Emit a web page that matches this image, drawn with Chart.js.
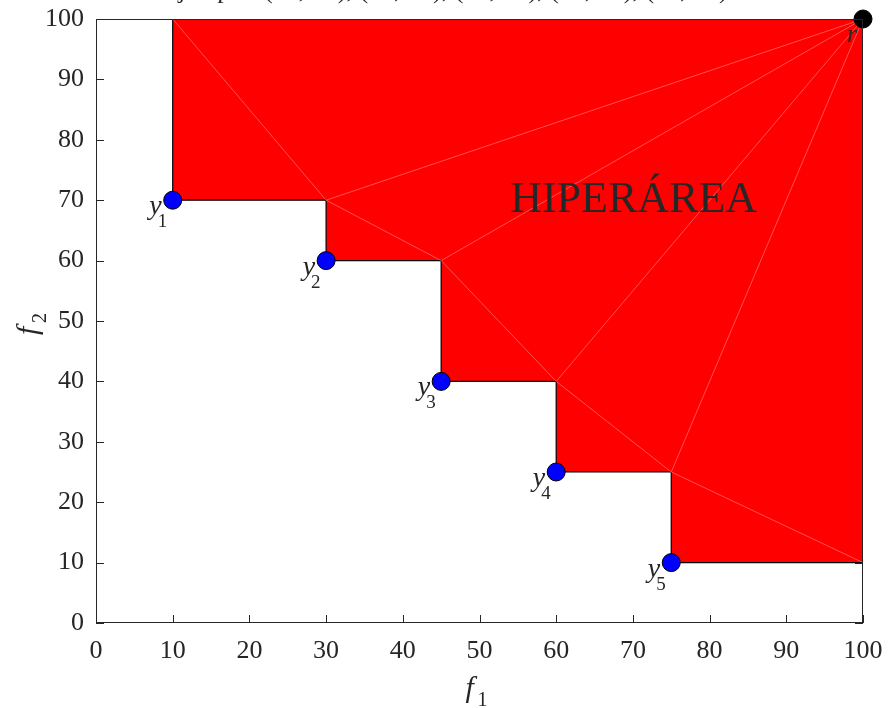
<!DOCTYPE html>
<html lang="es">
<head>
<meta charset="utf-8">
<title>Hiperárea</title>
<script src="https://cdn.jsdelivr.net/npm/chart.js@4.4.1/dist/chart.umd.min.js"></script>
<style>
  html, body { margin: 0; padding: 0; background: #fff; }
  #contenedor { width: 888px; height: 708px; }
</style>
</head>
<body>
<div id="contenedor"><canvas id="grafica" width="888" height="708"></canvas></div>
<script>
// Frente de Pareto (minimizacion de f1 y f2) y punto de referencia r
const f1Frente = [10, 30, 45, 60, 75];
const f2Frente = [70, 60, 40, 25, 10];
const subFrente = ['1', '2', '3', '4', '5'];
const refF1 = 100;
const refF2 = 100;

const ticksF1 = [0, 10, 20, 30, 40, 50, 60, 70, 80, 90, 100];
const ticksF2 = [0, 10, 20, 30, 40, 50, 60, 70, 80, 90, 100];

const tituloTexto = 'Ejemplo: (10, 70), (30, 60), (45, 40), (60, 25), (75, 10)';
const textoArea = 'HIPERÁREA';

const SERIF = "'Liberation Serif', 'Times New Roman', serif";
const GRIS = '#262626';

// Escalera del frente: de (x1, r2) bajando por cada punto hasta (r1, y5)
const escalera = [{ x: f1Frente[0], y: refF2 }];
for (let i = 0; i < f1Frente.length; i++) {
    escalera.push({ x: f1Frente[i], y: f2Frente[i] });
    const xSig = i + 1 < f1Frente.length ? f1Frente[i + 1] : refF1;
    escalera.push({ x: xSig, y: f2Frente[i] });
}

// Esquinas interiores de la escalera (vertices de la triangulacion del parche)
const esquinas = [];
for (let i = 0; i + 1 < f1Frente.length; i++) {
    esquinas.push({ x: f1Frente[i + 1], y: f2Frente[i] });
}

const lineaBlanca = {
    type: 'scatter', showLine: true, pointRadius: 0, fill: false,
    borderColor: 'rgba(255,255,255,0.45)', borderWidth: 0.7, order: 2
};

const datasets = [];

// Region dominada (relleno rojo hasta el borde superior)
datasets.push({
    data: escalera, showLine: true, pointRadius: 0,
    borderColor: '#000', borderWidth: 1.2,
    backgroundColor: '#ff0000', fill: 'end', order: 3
});

// Aristas de la triangulacion
datasets.push(Object.assign({}, lineaBlanca, {
    data: [{ x: f1Frente[0], y: refF2 }, ...esquinas, { x: refF1, y: f2Frente[f2Frente.length - 1] }]
}));
esquinas.forEach(e => {
    datasets.push(Object.assign({}, lineaBlanca, { data: [e, { x: refF1, y: refF2 }] }));
});

// Puntos del frente
datasets.push({
    data: f1Frente.map((v, i) => ({ x: v, y: f2Frente[i] })),
    pointRadius: 9, pointHoverRadius: 9,
    pointBackgroundColor: '#0000ff', pointBorderColor: '#000', pointBorderWidth: 1,
    showLine: false, order: 0
});

// Punto de referencia
datasets.push({
    data: [{ x: refF1, y: refF2 }],
    pointRadius: 9, pointHoverRadius: 9,
    pointBackgroundColor: '#000', pointBorderColor: '#000', pointBorderWidth: 1,
    showLine: false, order: 0, clip: false
});

// Marcas de los ejes hacia dentro
const marcas = {
    id: 'marcas',
    beforeDatasetsDraw(chart) {
        const { ctx, chartArea: a, scales: { x, y } } = chart;
        ctx.save();
        ctx.strokeStyle = GRIS;
        ctx.lineWidth = 1;
        ctx.beginPath();
        x.ticks.forEach(t => {
            const px = Math.round(x.getPixelForValue(t.value)) + 0.5;
            ctx.moveTo(px, a.bottom); ctx.lineTo(px, a.bottom - 8);
            ctx.moveTo(px, a.top); ctx.lineTo(px, a.top + 8);
        });
        y.ticks.forEach(t => {
            const py = Math.round(y.getPixelForValue(t.value)) + 0.5;
            ctx.moveTo(a.left, py); ctx.lineTo(a.left + 8, py);
            ctx.moveTo(a.right, py); ctx.lineTo(a.right - 8, py);
        });
        ctx.stroke();
        ctx.restore();
    }
};

// Marco, textos y etiquetas de los puntos
const textos = {
    id: 'textos',
    afterDatasetsDraw(chart) {
        const { ctx, chartArea: a, scales: { x, y } } = chart;
        ctx.save();

        ctx.strokeStyle = GRIS;
        ctx.lineWidth = 1;
        ctx.strokeRect(Math.round(a.left) + 0.5, Math.round(a.top) + 0.5,
            Math.round(a.right - a.left) - 1, Math.round(a.bottom - a.top) - 1);

        ctx.fillStyle = GRIS;
        ctx.textBaseline = 'alphabetic';

        // Rotulo de la region
        ctx.font = '44px ' + SERIF;
        ctx.textAlign = 'left';
        ctx.fillText(textoArea, x.getPixelForValue(54), y.getPixelForValue(68));

        // y_i junto a cada punto
        f1Frente.forEach((v, i) => {
            const px = x.getPixelForValue(v);
            const py = y.getPixelForValue(f2Frente[i]);
            ctx.font = 'italic 28px ' + SERIF;
            ctx.textAlign = 'right';
            ctx.fillText('y', px - 11, py + 14);
            ctx.font = '19px ' + SERIF;
            ctx.textAlign = 'left';
            ctx.fillText(subFrente[i], px - 15, py + 27);
        });

        // r
        ctx.font = 'italic 26px ' + SERIF;
        ctx.textAlign = 'right';
        ctx.fillText('r', x.getPixelForValue(refF1) - 6, y.getPixelForValue(refF2) + 23);

        // Titulos de ejes
        const cx = (a.left + a.right) / 2;
        ctx.font = 'italic 30px ' + SERIF;
        ctx.textAlign = 'left';
        ctx.fillText('f', cx - 14, 697);
        ctx.font = '20px ' + SERIF;
        ctx.fillText('1', cx - 2, 706);

        ctx.save();
        ctx.translate(37, (a.top + a.bottom) / 2);
        ctx.rotate(-Math.PI / 2);
        ctx.font = 'italic 30px ' + SERIF;
        ctx.fillText('f', -14, 0);
        ctx.font = '20px ' + SERIF;
        ctx.fillText('2', -2, 9);
        ctx.restore();

        // Titulo (queda cortado por el borde superior)
        ctx.font = '26px ' + SERIF;
        ctx.textAlign = 'center';
        ctx.fillText(tituloTexto, 445, -2);

        ctx.restore();
    }
};

new Chart(document.getElementById('grafica'), {
    type: 'scatter',
    data: { datasets: datasets },
    options: {
        responsive: false,
        devicePixelRatio: 1,
        animation: false,
        layout: { autoPadding: false, padding: { top: 19, right: 25, left: 0, bottom: 0 } },
        plugins: { legend: { display: false }, tooltip: { enabled: false } },
        scales: {
            x: {
                type: 'linear', min: 0, max: 100,
                afterBuildTicks: s => { s.ticks = ticksF1.map(v => ({ value: v })); },
                afterFit: s => { s.height = 85; s.paddingLeft = 0; s.paddingRight = 0; },
                grid: { display: false, drawTicks: false },
                border: { display: false },
                ticks: { padding: 13, color: GRIS, font: { family: SERIF, size: 26 }, maxRotation: 0 }
            },
            y: {
                type: 'linear', min: 0, max: 100,
                afterBuildTicks: s => { s.ticks = ticksF2.map(v => ({ value: v })); },
                afterFit: s => { s.width = 96; s.paddingTop = 0; s.paddingBottom = 0; },
                grid: { display: false, drawTicks: false },
                border: { display: false },
                ticks: { padding: 12, color: GRIS, font: { family: SERIF, size: 26 } }
            }
        }
    },
    plugins: [marcas, textos]
});
</script>
</body>
</html>
